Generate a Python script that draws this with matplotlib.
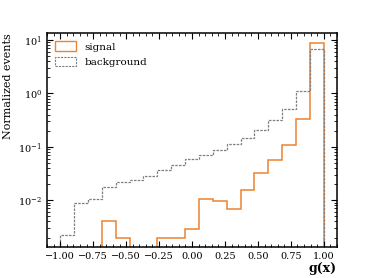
import numpy as np
import matplotlib.pyplot as plt
from matplotlib.ticker import MultipleLocator, LogLocator, NullFormatter
from matplotlib.patches import Patch

# 19 bins over [-1, 1]
edges = np.linspace(-1.0, 1.0, 20)
signal = [0, 0, 0, 0.0040, 0.00195, 0, 0, 0.00195, 0.00195, 0.0029,
          0.0106, 0.0098, 0.0069, 0.0156, 0.0326, 0.0555, 0.108, 0.327, 8.6]
background = [0.00223, 0.0089, 0.0106, 0.0175, 0.0217, 0.0241, 0.029, 0.037,
              0.046, 0.059, 0.069, 0.0855, 0.115, 0.148, 0.203, 0.323, 0.52,
              1.1, 6.7]

plt.rcParams['font.family'] = ['DejaVu Serif']
plt.rcParams['mathtext.fontset'] = 'dejavuserif'

fig = plt.figure(figsize=(3.74, 2.78), dpi=100)
ax = fig.add_axes([47 / 374, 1 - 247 / 278, 290 / 374, 214 / 278])

sig_col = '#ee8332'
bkg_col = '#7f7f7f'
ax.stairs(signal, edges, color=sig_col, lw=1.1)
ax.stairs(background, edges, color=bkg_col, lw=0.9, linestyle=(0, (2, 1)))

ax.set_yscale('log')
ax.set_xlim(-1.1, 1.1)
ax.set_ylim(0.00133, 13.5)

ax.xaxis.set_major_locator(MultipleLocator(0.25))
ax.xaxis.set_minor_locator(MultipleLocator(0.05))
ax.yaxis.set_major_locator(LogLocator(base=10, numticks=10))
ax.yaxis.set_minor_locator(LogLocator(base=10, subs=np.arange(2, 10), numticks=20))
ax.yaxis.set_minor_formatter(NullFormatter())
ax.tick_params(which='both', direction='in', top=True, right=True, labelsize=7)
ax.tick_params(which='major', length=4, width=0.8)
ax.tick_params(which='minor', length=2, width=0.6)
for s in ax.spines.values():
    s.set_linewidth(1.1)

ax.set_ylabel('Normalized events', fontsize=8, loc='top')
ax.set_xlabel('g(x)', fontsize=9, loc='right', labelpad=1, fontweight='semibold')

handles = [Patch(facecolor='none', edgecolor=sig_col, lw=1.0, label='signal'),
           Patch(facecolor='none', edgecolor=bkg_col, lw=0.8,
                 linestyle=(0, (2, 1)), label='background')]
ax.legend(handles=handles, loc='upper left', frameon=False, fontsize=7.5,
          handlelength=2.0, handleheight=1.0, borderaxespad=0.4)

fig.savefig('out.png', dpi=100)
